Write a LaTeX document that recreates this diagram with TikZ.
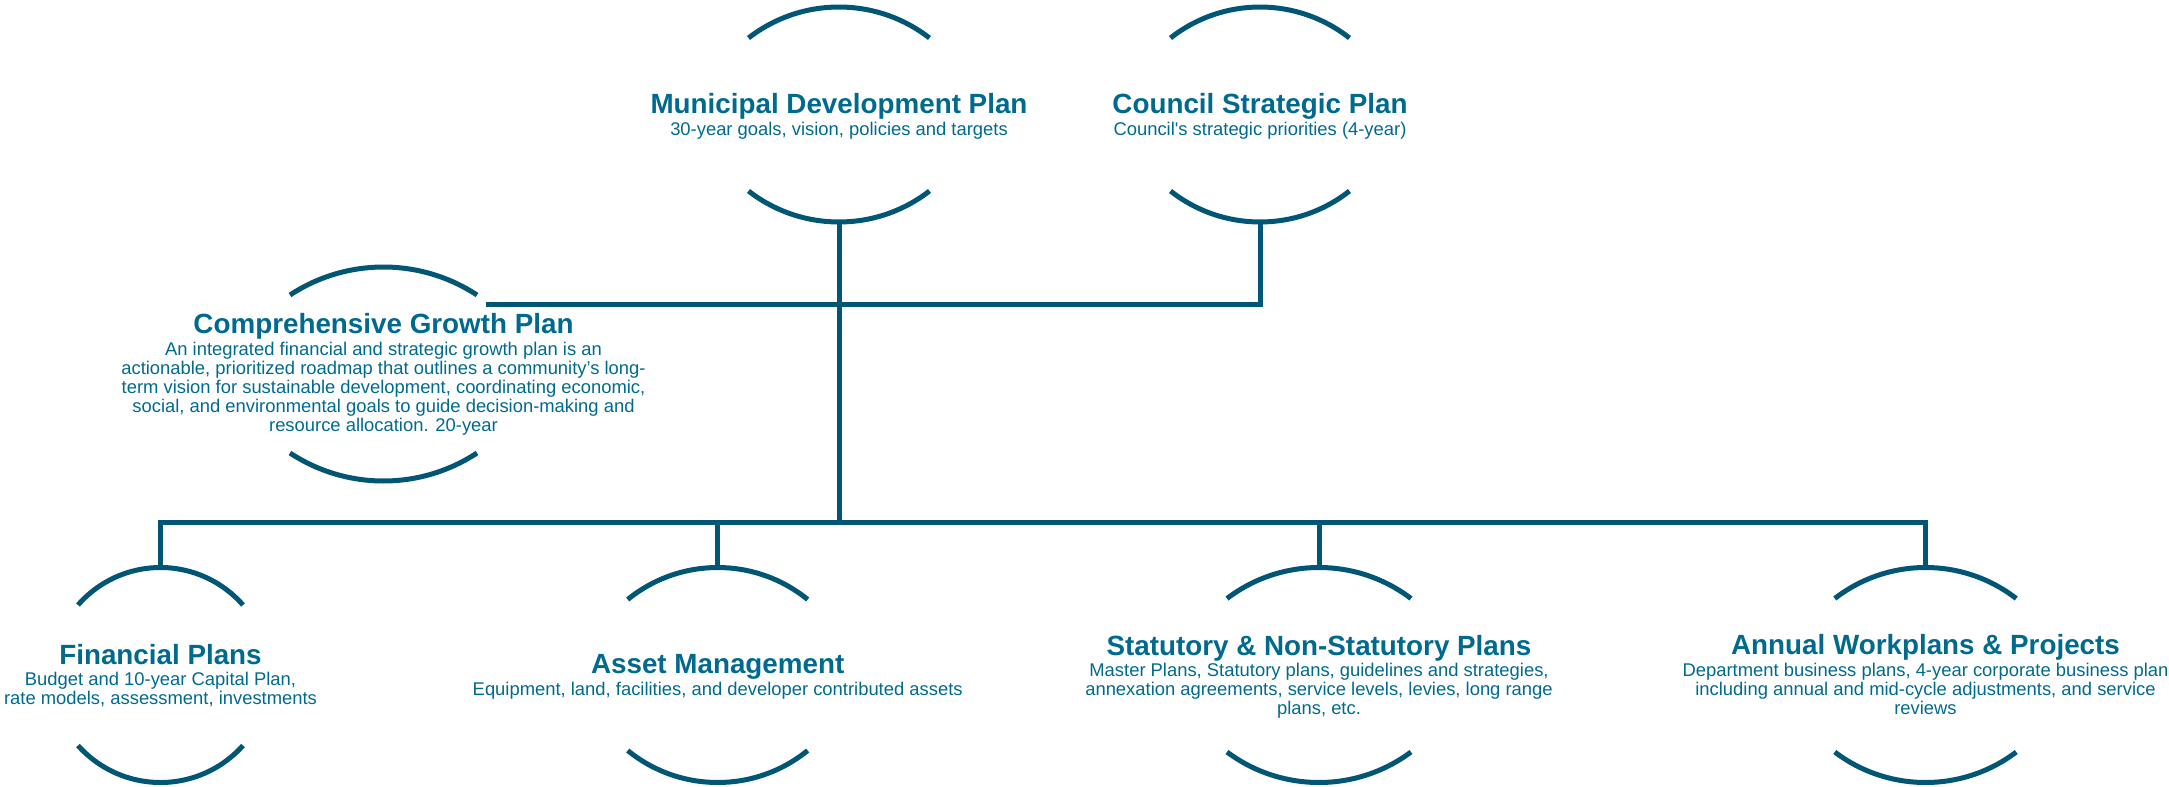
\documentclass[tikz,border=0pt]{standalone}
\usepackage{fontspec}
\setmainfont{Liberation Sans}
\definecolor{lineblue}{HTML}{005674}
\definecolor{textblue}{HTML}{006A8E}
\tikzset{
  arcline/.style={draw=lineblue, line width=5pt},
  conn/.style={draw=lineblue, line width=5pt, line join=miter},
  ttl/.style={text=textblue, inner sep=0pt, anchor=base, font=\fontsize{27.8}{30}\selectfont\bfseries},
  bdy/.style={text=textblue, inner sep=0pt, anchor=base, font=\fontsize{18.4}{19}\selectfont}
}
% #1 name, #2 cx, #3 top apex y, #4 top end y, #5 half chord, #6 bottom end y, #7 bottom apex y
\newcommand\ringcaps[7]{%
  \pgfmathsetmacro\rcS{#4-#3}%
  \pgfmathsetmacro\rcR{(#5*#5+\rcS*\rcS)/(2*\rcS)}%
  \pgfmathsetmacro\rcA{asin(#5/\rcR)}%
  \draw[arcline] (#2-#5,#4) arc[start angle=270-\rcA, end angle=270+\rcA, radius=\rcR];
  \pgfmathsetmacro\rcSb{#7-#6}%
  \pgfmathsetmacro\rcRb{(#5*#5+\rcSb*\rcSb)/(2*\rcSb)}%
  \pgfmathsetmacro\rcAb{asin(#5/\rcRb)}%
  \draw[arcline] (#2-#5,#6) arc[start angle=90+\rcAb, end angle=90-\rcAb, radius=\rcRb];
  \coordinate (#1T) at (#2,#3);
  \coordinate (#1B) at (#2,#7);
}
\newcommand\bodylines[1]{\begin{tabular}[t]{@{}c@{}}#1\end{tabular}}
\newcommand\straightap{{\addfontfeature{Ligatures=TeXOff}'}}
\begin{document}
\begin{tikzpicture}[x=1pt, y=-1pt]
\useasboundingbox (0,0) rectangle (2169,787);

% caps
\ringcaps{mdp}{839}{7}{38}{90.5}{191}{222}
\ringcaps{csp}{1260}{7}{38}{89.5}{191}{222}
\ringcaps{cgp}{383.5}{267}{295}{93.5}{453}{481}
\ringcaps{fin}{160.5}{567.5}{605}{82.5}{745.5}{782.5}
\ringcaps{ast}{717.7}{567.5}{599.5}{90}{750.5}{782.5}
\ringcaps{stp}{1319}{567.5}{598.5}{92}{752}{782.5}
\ringcaps{awp}{1925.5}{567.5}{598.5}{90.75}{752}{782.5}

% texts
\node[ttl] (mdp) at (839,113) {Municipal Development Plan};
\node[bdy] (mdpd) at (839,135) {30-year goals, vision, policies and targets};

\node[ttl] (csp) at (1260,113) {Council Strategic Plan};
\node[bdy] (cspd) at (1260,135) {Council\straightap s strategic priorities (4-year)};

\node[ttl] (cgp) at (383.5,333) {Comprehensive Growth Plan};
\node[bdy] (cgpd) at (383.5,355) {\bodylines{An integrated financial and strategic growth plan is an\\
actionable, prioritized roadmap that outlines a community’s long-\\
term vision for sustainable development, coordinating economic,\\
social, and environmental goals to guide decision-making and\\
resource allocation. 20-year}};

\node[ttl] (fin) at (160.5,664.3) {Financial Plans};
\node[bdy] (find) at (160.5,685) {\bodylines{Budget and 10-year Capital Plan,\\
rate models, assessment, investments}};

\node[ttl] (ast) at (717.7,673.5) {Asset Management};
\node[bdy] (astd) at (717.7,695.5) {Equipment, land, facilities, and developer contributed assets};

\node[ttl] (stp) at (1319,655) {Statutory \& Non-Statutory Plans};
\node[bdy] (stpd) at (1319,676) {\bodylines{Master Plans, Statutory plans, guidelines and strategies,\\
annexation agreements, service levels, levies, long range\\
plans, etc.}};

\node[ttl] (awp) at (1925.5,654.5) {Annual Workplans \& Projects};
\node[bdy] (awpd) at (1925.5,676) {\bodylines{Department business plans, 4-year corporate business plan\\
including annual and mid-cycle adjustments, and service\\
reviews}};

% connectors
\coordinate (cgpE) at (486,304);
\coordinate (bus) at (0,522);
\draw[conn] (cgpE) -- (cspB |- cgpE) -- (cspB);
\draw[conn] (mdpB) -- (mdpB |- bus);
\draw[conn] (finT) -- (finT |- bus) -- (awpT |- bus) -- (awpT);
\draw[conn] (astT) -- (astT |- bus);
\draw[conn] (stpT) -- (stpT |- bus);
\end{tikzpicture}
\end{document}
